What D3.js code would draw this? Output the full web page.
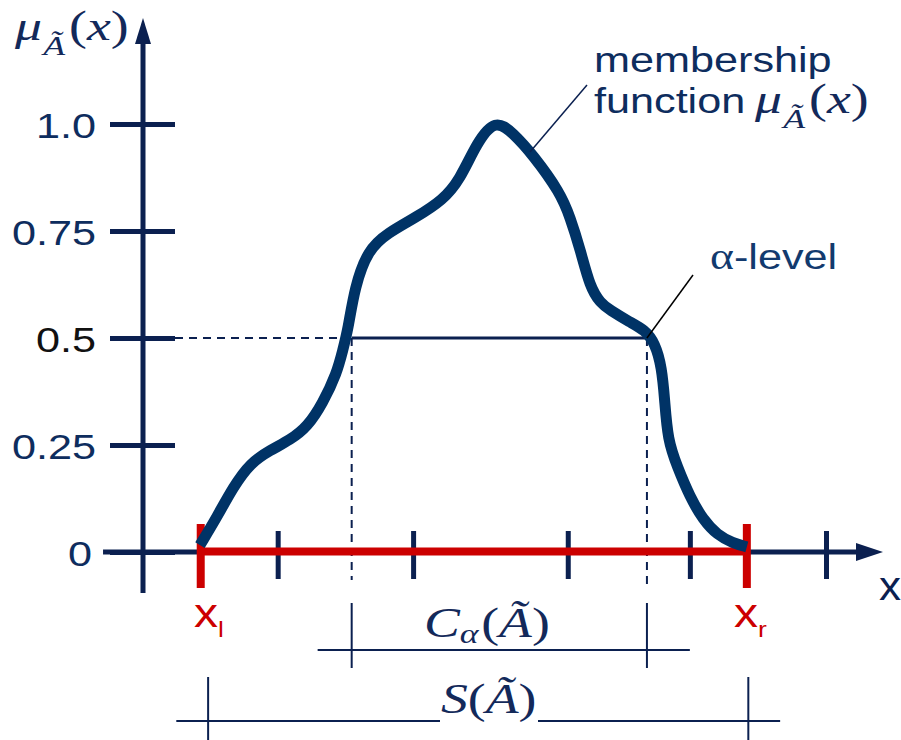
<!DOCTYPE html>
<html>
<head>
<meta charset="utf-8">
<script src="https://cdn.jsdelivr.net/npm/d3@7"></script>
<style>
  html, body { margin: 0; padding: 0; background: #ffffff; }
  svg { display: block; }
</style>
</head>
<body>
<svg id="chart" width="901" height="740"></svg>
<script>
// ---- data ---------------------------------------------------------------
// membership degrees along the universe of discourse (arbitrary x units)
const curveX = [0.77, 1.00, 1.22, 1.45, 1.72, 1.99, 2.22, 2.43, 2.62, 2.70, 2.77,
                2.86, 3.04, 3.30, 3.70, 4.05, 4.28, 4.51, 4.76, 5.00, 5.27, 5.64,
                5.77, 5.91, 6.04, 6.18, 6.31, 6.58, 6.78, 6.92, 7.01, 7.05, 7.09,
                7.22, 7.39, 7.57, 7.76, 7.97, 8.16];
const curveMu = [0.016, 0.082, 0.152, 0.208, 0.238, 0.262, 0.292, 0.348, 0.418, 0.472, 0.519,
                 0.619, 0.706, 0.745, 0.783, 0.822, 0.869, 0.956, 1.012, 0.979, 0.928, 0.839,
                 0.783, 0.706, 0.619, 0.582, 0.565, 0.537, 0.519, 0.488, 0.432, 0.355, 0.262,
                 0.199, 0.129, 0.075, 0.040, 0.021, 0.012];

const yTickValues = [0, 0.25, 0.5, 0.75, 1.0];
const yTickLabels = ["0", "0.25", "0.5", "0.75", "1.0"];
const xTickValues = [1.82, 3.65, 5.74, 7.39, 9.23];

const alphaLevel = 0.5;
const alphaCut = [2.82, 6.81];      // C_alpha bounds
const support = [0.78, 8.16];       // x_l, x_r
const supportBracket = [0.88, 8.18];
const alphaBracketLine = [2.36, 7.39];
const supportBracketLine = [0.45, 8.61];
const xAxisExtent = [-0.54, 10];

// ---- scales -------------------------------------------------------------
const x = d3.scaleLinear().domain([0, 10]).range([143, 883]);
const y = d3.scaleLinear().domain([0, 1]).range([552, 124]);

const NAVY = "#0b2050";
const CURVE = "#003366";
const RED = "#cc0000";
const TXT = "#0e2d5e";
const SX = 1.2;   // horizontal stretch of sans text
const MX = 1.28;  // horizontal stretch of math text

const svg = d3.select("#chart");

// ---- alpha-level guides --------------------------------------------------
svg.append("line")
  .attr("x1", x(0) + 32).attr("x2", x(alphaCut[0]))
  .attr("y1", y(alphaLevel)).attr("y2", y(alphaLevel))
  .attr("stroke", NAVY).attr("stroke-width", 2).attr("stroke-dasharray", "8,6");
svg.append("line")
  .attr("x1", x(alphaCut[0])).attr("x2", x(alphaCut[1]))
  .attr("y1", y(alphaLevel)).attr("y2", y(alphaLevel))
  .attr("stroke", NAVY).attr("stroke-width", 3);
alphaCut.forEach((v, i) => {
  svg.append("line")
    .attr("x1", x(v)).attr("x2", x(v))
    .attr("y1", y(alphaLevel)).attr("y2", y(0) + (i ? 36 : 28))
    .attr("stroke", NAVY).attr("stroke-width", 2).attr("stroke-dasharray", "8,6");
});

// ---- y axis ---------------------------------------------------------------
const yAxis = d3.axisLeft(y)
  .tickValues(yTickValues)
  .tickFormat((d, i) => yTickLabels[i])
  .tickSizeOuter(0);
const gy = svg.append("g").attr("transform", `translate(${x(0)},0)`).call(yAxis);
gy.select(".domain").remove();
gy.selectAll(".tick line")
  .attr("x1", -33).attr("x2", 32)
  .attr("stroke", NAVY).attr("stroke-width", 5);
gy.selectAll(".tick text")
  .attr("x", 0).attr("dy", null)
  .attr("transform", d => `translate(${d === 0 ? -51 : -47},13) scale(${SX},1)`)
  .attr("text-anchor", "end")
  .attr("font-family", "'Liberation Sans', Arial, sans-serif")
  .attr("font-size", 36)
  .attr("fill", d => d === 0.5 ? "#111111" : TXT);

svg.append("line")
  .attr("x1", x(0)).attr("x2", x(0))
  .attr("y1", y(0) + 41).attr("y2", 40)
  .attr("stroke", NAVY).attr("stroke-width", 5);
svg.append("path")
  .attr("d", `M${x(0)},18 L${x(0) - 8},44 L${x(0) + 8},44 Z`)
  .attr("fill", NAVY);

// ---- x axis ---------------------------------------------------------------
svg.append("line")
  .attr("x1", x(xAxisExtent[0])).attr("x2", x(xAxisExtent[1]) - 20)
  .attr("y1", y(0)).attr("y2", y(0))
  .attr("stroke", NAVY).attr("stroke-width", 5);
svg.append("path")
  .attr("d", `M${x(xAxisExtent[1])},${y(0)} L${x(xAxisExtent[1]) - 27},${y(0) - 9} L${x(xAxisExtent[1]) - 27},${y(0) + 9} Z`)
  .attr("fill", NAVY);

const xAxis = d3.axisBottom(x).tickValues(xTickValues).tickFormat("").tickSizeOuter(0);
const gx = svg.append("g").attr("transform", `translate(0,${y(0)})`).call(xAxis);
gx.select(".domain").remove();
gx.selectAll(".tick line")
  .attr("y1", -21).attr("y2", 27)
  .attr("stroke", NAVY).attr("stroke-width", 5);

// support interval in red
svg.append("line")
  .attr("x1", x(support[0])).attr("x2", x(support[1]))
  .attr("y1", y(0) - 0.5).attr("y2", y(0) - 0.5)
  .attr("stroke", RED).attr("stroke-width", 8);
support.forEach(v => {
  svg.append("line")
    .attr("x1", x(v)).attr("x2", x(v))
    .attr("y1", y(0) - 28).attr("y2", y(0) + 36)
    .attr("stroke", RED).attr("stroke-width", 8);
});

// ---- membership function ---------------------------------------------------
const pts = curveX.map((v, i) => [v, curveMu[i]]);
const line = d3.line()
  .x(d => x(d[0])).y(d => y(d[1]))
  .curve(d3.curveBasis);
svg.append("path")
  .attr("d", line(pts))
  .attr("fill", "none")
  .attr("stroke", CURVE)
  .attr("stroke-width", 11)
  .attr("stroke-linejoin", "round")
  .attr("stroke-linecap", "butt");

// ---- text helpers -------------------------------------------------------------
const SANS = "'Liberation Sans', Arial, sans-serif";
const SERIF = "'Liberation Serif', 'Times New Roman', serif";

function label(px, py, sx, anchor) {
  return svg.append("text")
    .attr("transform", `translate(${px},${py}) scale(${sx},1)`)
    .attr("text-anchor", anchor || "start");
}
function muLabel(t) {
  t.append("tspan").attr("font-family", SERIF).attr("font-style", "italic").attr("font-size", 42).text("μ");
  t.append("tspan").attr("font-family", SERIF).attr("font-style", "italic").attr("font-size", 28)
    .attr("dx", 1).attr("dy", 15).text("Ã");
  t.append("tspan").attr("font-family", SERIF).attr("font-size", 42).attr("dx", 3).attr("dy", -15).text("(");
  t.append("tspan").attr("font-family", SERIF).attr("font-style", "italic").attr("font-size", 42).text("x");
  t.append("tspan").attr("font-family", SERIF).attr("font-size", 42).text(")");
}

// y axis title
muLabel(label(15, 40, MX).attr("fill", "#13295a"));

// x axis title
label(879, 600, 1.1).attr("font-family", SANS).attr("font-size", 40).attr("fill", NAVY).text("x");

// membership function callout
svg.append("line").attr("x1", 530).attr("y1", 152).attr("x2", 587).attr("y2", 85)
  .attr("stroke", NAVY).attr("stroke-width", 1.5);
label(594, 72, SX).attr("font-family", SANS).attr("font-size", 36).attr("fill", TXT).text("membership");
label(594, 113, SX).attr("font-family", SANS).attr("font-size", 36).attr("fill", TXT).text("function");
muLabel(label(755, 113, MX).attr("fill", "#13295a"));

// alpha-level callout
svg.append("line").attr("x1", x(alphaCut[1])).attr("y1", y(alphaLevel)).attr("x2", 693).attr("y2", 275)
  .attr("stroke", "#000000").attr("stroke-width", 1.5);
const al = label(710, 269, SX).attr("fill", "#123a6e");
al.append("tspan").attr("font-family", SERIF).attr("font-size", 38).text("α");
al.append("tspan").attr("font-family", SANS).attr("font-size", 36).text("-level");

// support endpoints
const xl = label(194, 627, SX).attr("fill", RED).attr("font-family", SANS);
xl.append("tspan").attr("font-size", 40).text("x");
xl.append("tspan").attr("font-size", 22).attr("dy", 10).text("l");
const xr = label(734, 627, SX).attr("fill", RED).attr("font-family", SANS);
xr.append("tspan").attr("font-size", 40).text("x");
xr.append("tspan").attr("font-size", 22).attr("dy", 10).text("r");

// ---- interval brackets ----------------------------------------------------
function bracket(lineExt, ends, ly, top, bottom) {
  svg.append("line").attr("x1", x(lineExt[0])).attr("x2", x(lineExt[1]))
    .attr("y1", ly).attr("y2", ly).attr("stroke", NAVY).attr("stroke-width", 2);
  ends.forEach(v => {
    svg.append("line").attr("x1", x(v)).attr("x2", x(v))
      .attr("y1", top).attr("y2", bottom).attr("stroke", NAVY).attr("stroke-width", 2);
  });
}
bracket(alphaBracketLine, alphaCut, 650, 603, 668);
bracket(supportBracketLine, supportBracket, 721, 677, 740);

// C_alpha(A~)
const ca = label(424, 637, MX).attr("fill", "#13295a").attr("font-family", SERIF);
ca.append("tspan").attr("font-style", "italic").attr("font-size", 42).text("C");
ca.append("tspan").attr("font-style", "italic").attr("font-size", 28).attr("dy", 6).text("α");
ca.append("tspan").attr("font-size", 42).attr("dy", -6).attr("dx", 2).text("(");
ca.append("tspan").attr("font-style", "italic").attr("font-size", 42).text("Ã");
ca.append("tspan").attr("font-size", 42).text(")");

// S(A~) sits on a white patch over its bracket line
svg.append("rect").attr("x", 440).attr("y", 700).attr("width", 98).attr("height", 24).attr("fill", "#ffffff");
const sa = label(441, 713, MX).attr("fill", "#13295a").attr("font-family", SERIF);
sa.append("tspan").attr("font-style", "italic").attr("font-size", 42).text("S");
sa.append("tspan").attr("font-size", 42).text("(");
sa.append("tspan").attr("font-style", "italic").attr("font-size", 42).text("Ã");
sa.append("tspan").attr("font-size", 42).text(")");
</script>
</body>
</html>
